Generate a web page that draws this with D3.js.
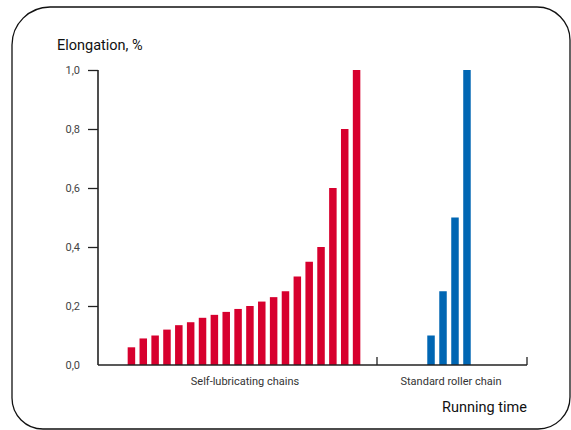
<!DOCTYPE html>
<html><head><meta charset="utf-8">
<script src="https://cdn.jsdelivr.net/npm/d3@7"></script>
<style>html,body{margin:0;padding:0;background:#fff;}svg{display:block;}</style>
</head><body>
<svg id="c" width="571" height="430"></svg>
<script>
const selfLubValues = [0.06,0.09,0.10,0.12,0.135,0.145,0.16,0.17,0.18,0.19,0.20,0.215,0.23,0.25,0.30,0.35,0.40,0.60,0.80,1.00];
const standardValues = [0.10,0.25,0.50,1.00];
const groupLabels = ["Self-lubricating chains","Standard roller chain"];
const yTicks = [0,0.2,0.4,0.6,0.8,1.0];
const yTickLabels = ["0,0","0,2","0,4","0,6","0,8","1,0"];
const yTitle = "Elongation, %";
const xTitle = "Running time";

const svg = d3.select("#c");
const font = "Roboto, 'Noto Sans', sans-serif";

// frame
const L=12,T=7,R=570,B=429, rTL=38,rTR=33,rBL=31,rBR=32;
const fp = d3.path();
fp.moveTo(L+rTL,T); fp.lineTo(R-rTR,T);
fp.arcTo(R,T,R,T+rTR,rTR); fp.lineTo(R,B-rBR);
fp.arcTo(R,B,R-rBR,B,rBR); fp.lineTo(L+rBL,B);
fp.arcTo(L,B,L,B-rBL,rBL); fp.lineTo(L,T+rTL);
fp.arcTo(L,T,L+rTL,T,rTL); fp.closePath();
svg.append("path").attr("d",fp.toString()).attr("fill","none").attr("stroke","#111").attr("stroke-width",1.3);

const y = d3.scaleLinear().domain([0,1]).range([365,70]);
const x0 = 98, x1 = 527;
const xRed = d3.scaleBand().domain(d3.range(selfLubValues.length)).range([125.5,362.5]).paddingInner(0.367).paddingOuter(0.183);
const xBlue = d3.scaleBand().domain(d3.range(standardValues.length)).range([425,473]).paddingInner(0.375).paddingOuter(0.19);

svg.append("g").selectAll("rect").data(selfLubValues).join("rect")
  .attr("x",(d,i)=>xRed(i)).attr("width",xRed.bandwidth())
  .attr("y",d=>y(d)).attr("height",d=>y(0)-y(d)).attr("fill","#d7002e");
svg.append("g").selectAll("rect").data(standardValues).join("rect")
  .attr("x",(d,i)=>xBlue(i)).attr("width",xBlue.bandwidth())
  .attr("y",d=>y(d)).attr("height",d=>y(0)-y(d)).attr("fill","#0066b3");

// y axis
const yAxis = d3.axisLeft(y).tickValues(yTicks.slice(1)).tickSize(10).tickPadding(8)
  .tickFormat((d)=>yTickLabels[yTicks.indexOf(d)]);
const ga = svg.append("g").attr("transform",`translate(${x0},0)`).call(yAxis);
ga.select(".domain").remove();
ga.selectAll("line").attr("stroke","#222").attr("stroke-width",1.3);
ga.selectAll("text").attr("font-family",font).attr("font-size",11).attr("fill","#444");
svg.append("line").attr("x1",x0).attr("x2",x0).attr("y1",y(1)).attr("y2",y(0)).attr("stroke","#222").attr("stroke-width",1.6);
svg.append("text").attr("x",x0-18).attr("y",y(0)).attr("dy","0.32em").attr("text-anchor","end")
  .attr("font-family",font).attr("font-size",11).attr("fill","#444").text(yTickLabels[0]);

// x axis
svg.append("line").attr("x1",x0).attr("x2",x1).attr("y1",y(0)).attr("y2",y(0)).attr("stroke","#222").attr("stroke-width",1.6);
[377,x1].forEach(px=>svg.append("line").attr("x1",px).attr("x2",px).attr("y1",y(0)).attr("y2",y(0)-8).attr("stroke","#222").attr("stroke-width",1.3));

svg.append("text").attr("x",245).attr("y",381).attr("dy","0.35em").attr("text-anchor","middle")
  .attr("font-family",font).attr("font-size",11).attr("fill","#333").text(groupLabels[0]);
svg.append("text").attr("x",451).attr("y",381).attr("dy","0.35em").attr("text-anchor","middle")
  .attr("font-family",font).attr("font-size",11).attr("fill","#333").text(groupLabels[1]);

svg.append("text").attr("x",57).attr("y",50).attr("font-family",font).attr("font-size",14.5)
  .attr("font-weight",400).attr("fill","#111").text(yTitle);
svg.append("text").attr("x",527).attr("y",412).attr("text-anchor","end").attr("font-family",font).attr("font-size",14.5)
  .attr("font-weight",400).attr("fill","#111").text(xTitle);
</script>
</body></html>
